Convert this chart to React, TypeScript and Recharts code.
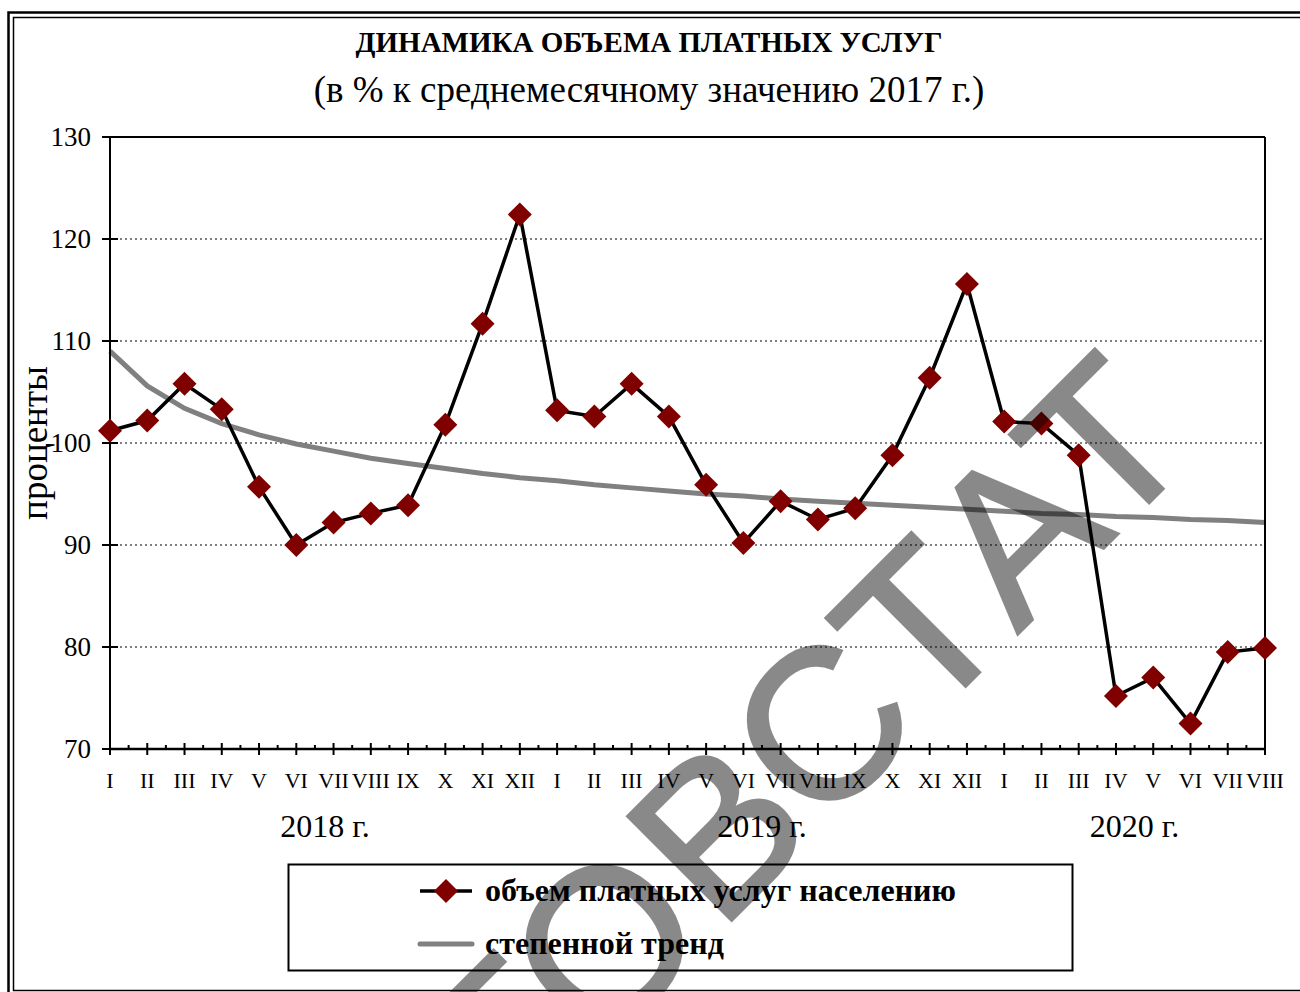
import React from 'react'
import { LineChart, Line, XAxis, YAxis, CartesianGrid } from 'recharts'

// месяцы по годам
const months2018 = ['I', 'II', 'III', 'IV', 'V', 'VI', 'VII', 'VIII', 'IX', 'X', 'XI', 'XII']
const months2019 = ['I', 'II', 'III', 'IV', 'V', 'VI', 'VII', 'VIII', 'IX', 'X', 'XI', 'XII']
const months2020 = ['I', 'II', 'III', 'IV', 'V', 'VI', 'VII', 'VIII']
const years = ['2018 г.', '2019 г.', '2020 г.']

// объем платных услуг населению, % к среднемесячному 2017 г.
const services = [
  101.2, 102.2, 105.8, 103.3, 95.7, 90.0, 92.2, 93.1, 93.9, 101.8, 111.7, 122.4,
  103.2, 102.6, 105.8, 102.6, 95.9, 90.2, 94.3, 92.5, 93.6, 98.8, 106.4, 115.6,
  102.1, 101.9, 98.8, 75.2, 77.0, 72.5, 79.5, 79.9
]

// степенной тренд
const trend = [
  109.0, 105.6, 103.4, 101.9, 100.8, 99.9, 99.2, 98.5, 98.0, 97.5, 97.0, 96.6,
  96.3, 95.9, 95.6, 95.3, 95.0, 94.8, 94.5, 94.3, 94.1, 93.9, 93.7, 93.5,
  93.3, 93.1, 93.0, 92.8, 92.7, 92.5, 92.4, 92.2
]

const yTicks = [70, 80, 90, 100, 110, 120, 130]

const yearMonths = [months2018, months2019, months2020]

const data = yearMonths.flatMap((ms, yi) =>
  ms.map((m, mi) => ({
    key: `${yi}-${mi}`,
    month: m,
    yearIdx: yi,
    monthIdx: mi,
  }))
).map((d, i) => ({ ...d, services: services[i], trend: trend[i] }))

const series = [
  { key: 'services', name: 'объем платных услуг населению', color: '#000000', width: 3.5, marker: true },
  { key: 'trend', name: 'степенной тренд', color: '#808080', width: 5, marker: false },
]

const W = 1300
const H = 992
const PLOT_LEFT = 110
const PLOT_RIGHT = 1265
const FONT = '"Liberation Serif", "Times New Roman", serif'
const MARKER = '#800000'

const step = (PLOT_RIGHT - PLOT_LEFT) / (data.length - 1)

const Diamond = (props: any) => {
  const { cx, cy } = props
  if (cx == null || cy == null) return null
  const r = 12
  return (
    <polygon
      points={`${cx},${cy - r} ${cx + r},${cy} ${cx},${cy + r} ${cx - r},${cy}`}
      fill={MARKER}
    />
  )
}

const MonthTick = (props: any) => {
  const { x, y, payload, index } = props
  const d = data[index] || data[payload.index]
  const label = d ? d.month : payload.value
  const isFirst = d && d.monthIdx === 0
  const count = d ? yearMonths[d.yearIdx].length : 0
  return (
    <g>
      <line x1={x} y1={y - 6} x2={x} y2={y + 6} stroke="#000" strokeWidth={2} />
      {index < data.length - 1 && (
        <line x1={x + step / 2} y1={y - 4} x2={x + step / 2} y2={y} stroke="#000" strokeWidth={2} />
      )}
      <text x={x} y={y + 39} textAnchor="middle" fontFamily={FONT} fontSize={22} fill="#000">
        {label}
      </text>
      {isFirst && (
        <text
          x={x + ((count - 1) / 2) * step + (d.yearIdx === 0 ? 10 : 0)}
          y={y + 88}
          textAnchor="middle"
          fontFamily={FONT}
          fontSize={32}
          fill="#000"
        >
          {years[d.yearIdx]}
        </text>
      )}
    </g>
  )
}

const ValueTick = (props: any) => {
  const { x, y, payload } = props
  return (
    <g>
      <line x1={x - 8} y1={y} x2={x + 8} y2={y} stroke="#000" strokeWidth={2} />
      <text x={x - 19} y={y + 9} textAnchor="end" fontFamily={FONT} fontSize={27} fill="#000">
        {payload.value}
      </text>
    </g>
  )
}

const Overlay = () => (
  <svg
    width={W}
    height={H}
    style={{ position: 'absolute', left: 0, top: 0, pointerEvents: 'none' }}
  >
    {/* рамка */}
    <rect x={8.5} y={12.5} width={1400} height={990} fill="none" stroke="#000" strokeWidth={2.5} />
    <rect x={13.5} y={17.5} width={1400} height={973} fill="none" stroke="#000" strokeWidth={1.5} />

    <text x={649} y={52} textAnchor="middle" fontFamily={FONT} fontSize={29} fontWeight="bold">
      ДИНАМИКА ОБЪЕМА ПЛАТНЫХ УСЛУГ
    </text>
    <text x={649} y={102} textAnchor="middle" fontFamily={FONT} fontSize={37}>
      (в % к среднемесячному значению 2017 г.)
    </text>
    <text
      x={47}
      y={443}
      textAnchor="middle"
      fontFamily={FONT}
      fontSize={37}
      transform="rotate(-90 47 443)"
    >
      проценты
    </text>

    {/* легенда */}
    <rect x={288.5} y={864.5} width={784} height={106} fill="#fff" stroke="#000" strokeWidth={2} />
    {series.map((s, i) => {
      const cy = 891 + i * 53
      return (
        <g key={s.key}>
          <line x1={420} y1={cy} x2={472} y2={cy} stroke={s.color} strokeWidth={s.width} strokeLinecap={s.marker ? 'butt' : 'round'} />
          {s.marker && <Diamond cx={446} cy={cy} />}
          <text x={485} y={cy + 10} fontFamily={FONT} fontSize={32} fontWeight="bold">
            {s.name}
          </text>
        </g>
      )
    })}

    {/* водяной знак */}
    <g opacity={0.46}>
      <text
        x={1206}
        y={446}
        textAnchor="end"
        fontFamily='"Liberation Sans", Arial, sans-serif'
        fontSize={214}
        letterSpacing={5}
        fill="#000"
        stroke="#000"
        strokeWidth={3}
        strokeLinejoin="miter"
        transform="rotate(-45 1206 446)"
      >
        РОСТОВСТАТ
      </text>
    </g>
  </svg>
)

export default function App() {
  return (
    <div style={{ position: 'absolute', left: 0, top: 0, width: W, height: H, background: '#fff' }}>
      <LineChart
        width={W}
        height={H}
        data={data}
        margin={{ top: 136, right: 30, bottom: 123, left: 10 }}
      >
        <CartesianGrid
          xAxisId="m"
          yAxisId="l"
          vertical={false}
          stroke="#000"
          strokeDasharray="2 3"
          strokeWidth={1}
        />
        <XAxis
          xAxisId="m"
          dataKey="key"
          height={120}
          interval={0}
          tickSize={0}
          tickMargin={0}
          tickLine={false}
          axisLine={{ stroke: '#000', strokeWidth: 2.5 }}
          tick={<MonthTick />}
        />
        <XAxis
          xAxisId="top"
          dataKey="key"
          orientation="top"
          height={1}
          tick={false}
          tickLine={false}
          axisLine={{ stroke: '#000', strokeWidth: 2 }}
        />
        <YAxis
          yAxisId="l"
          width={100}
          domain={[70, 130]}
          ticks={yTicks}
          interval={0}
          tickSize={0}
          tickMargin={0}
          tickLine={false}
          axisLine={{ stroke: '#000', strokeWidth: 2 }}
          tick={<ValueTick />}
        />
        <YAxis
          yAxisId="r"
          orientation="right"
          width={5}
          domain={[70, 130]}
          ticks={yTicks}
          tick={false}
          tickLine={false}
          axisLine={{ stroke: '#000', strokeWidth: 2 }}
        />
        <Line
          xAxisId="m"
          yAxisId="l"
          type="linear"
          dataKey="trend"
          name={series[1].name}
          stroke={series[1].color}
          strokeWidth={series[1].width}
          dot={false}
          isAnimationActive={false}
        />
        <Line
          xAxisId="m"
          yAxisId="l"
          type="linear"
          dataKey="services"
          name={series[0].name}
          stroke={series[0].color}
          strokeWidth={series[0].width}
          dot={<Diamond />}
          activeDot={false}
          isAnimationActive={false}
        />
      </LineChart>
      <Overlay />
    </div>
  )
}
